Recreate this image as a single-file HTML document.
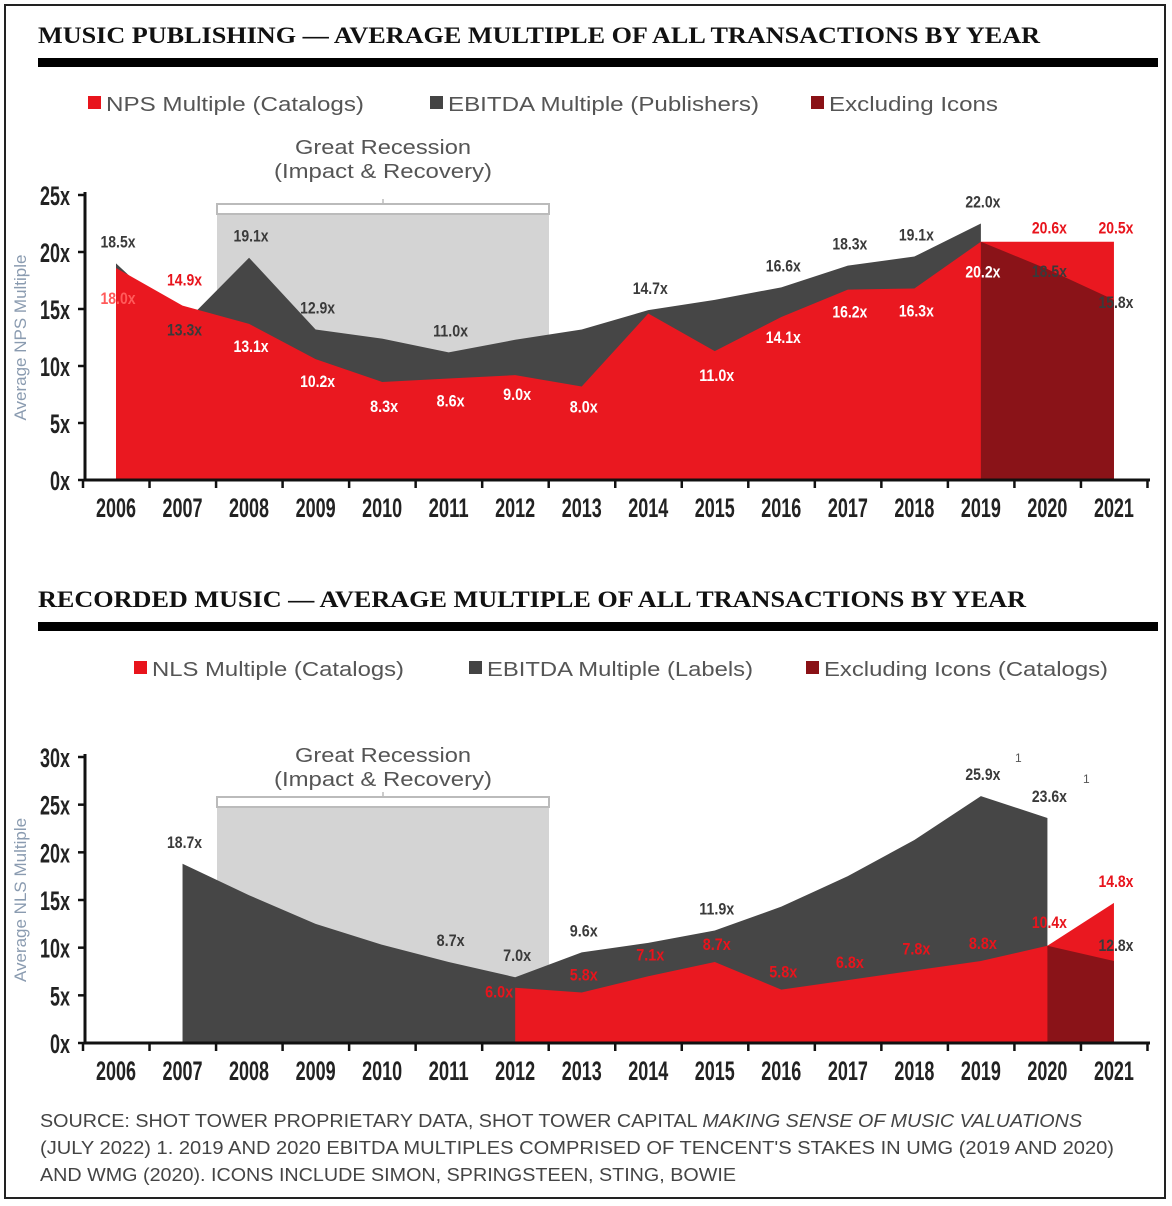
<!DOCTYPE html>
<html><head><meta charset="utf-8">
<style>
html,body{margin:0;padding:0;background:#fff;}
svg{display:block;}
.t{font-family:"Liberation Serif",serif;font-weight:bold;font-size:23px;fill:#111;}
.lg{font-family:"Liberation Sans",sans-serif;font-size:20px;fill:#555;}
.yr{font-family:"Liberation Sans Narrow","Liberation Sans",sans-serif;font-weight:bold;font-size:27px;fill:#222;}
.lb{font-family:"Liberation Sans Narrow","Liberation Sans",sans-serif;font-weight:bold;font-size:17px;}
.src{font-family:"Liberation Sans",sans-serif;font-size:18px;fill:#444;}
</style></head>
<body>
<svg id="c" width="1172" height="1206" xmlns="http://www.w3.org/2000/svg">
<rect x="5" y="5" width="1160" height="1193" fill="#fff" stroke="#222" stroke-width="2"/>
<text class="t" x="38" y="43" textLength="1002" lengthAdjust="spacingAndGlyphs">MUSIC PUBLISHING — AVERAGE MULTIPLE OF ALL TRANSACTIONS BY YEAR</text>
<rect x="38" y="58" width="1120" height="9" fill="#000"/>
<text class="t" x="38" y="607" textLength="988" lengthAdjust="spacingAndGlyphs">RECORDED MUSIC — AVERAGE  MULTIPLE OF ALL TRANSACTIONS BY YEAR</text>
<rect x="38" y="622" width="1120" height="9" fill="#000"/>
<g>
<rect x="88" y="96" width="13" height="13" fill="#e8141c"/>
<text class="lg" x="106" y="111" textLength="258" lengthAdjust="spacingAndGlyphs">NPS Multiple (Catalogs)</text>
<rect x="430" y="96" width="13" height="13" fill="#444"/>
<text class="lg" x="448" y="111" textLength="311" lengthAdjust="spacingAndGlyphs">EBITDA Multiple (Publishers)</text>
<rect x="811" y="96" width="13" height="13" fill="#8a1116"/>
<text class="lg" x="829" y="111" textLength="169" lengthAdjust="spacingAndGlyphs">Excluding Icons</text>
</g>
<g>
<rect x="134" y="661" width="13" height="13" fill="#e8141c"/>
<text class="lg" x="152" y="676" textLength="252" lengthAdjust="spacingAndGlyphs">NLS Multiple (Catalogs)</text>
<rect x="469" y="661" width="13" height="13" fill="#444"/>
<text class="lg" x="487" y="676" textLength="266" lengthAdjust="spacingAndGlyphs">EBITDA Multiple (Labels)</text>
<rect x="806" y="661" width="13" height="13" fill="#8a1116"/>
<text class="lg" x="824" y="676" textLength="284" lengthAdjust="spacingAndGlyphs">Excluding Icons (Catalogs)</text>
</g>
<text class="src" x="40" y="1127" textLength="1042" lengthAdjust="spacingAndGlyphs">SOURCE:  SHOT TOWER PROPRIETARY DATA, SHOT TOWER CAPITAL <tspan font-style="italic">MAKING SENSE OF MUSIC VALUATIONS</tspan></text>
<text class="src" x="40" y="1154" textLength="1074" lengthAdjust="spacingAndGlyphs">(JULY 2022)  1. 2019 AND 2020 EBITDA MULTIPLES COMPRISED OF TENCENT'S STAKES IN UMG (2019 AND 2020)</text>
<text class="src" x="40" y="1181" textLength="696" lengthAdjust="spacingAndGlyphs">AND WMG (2020). ICONS INCLUDE SIMON, SPRINGSTEEN, STING, BOWIE</text>
</svg>
<script>
const years=["2006","2007","2008","2009","2010","2011","2012","2013","2014","2015","2016","2017","2018","2019","2020","2021"];
// top chart (publishing)
const pubEbitda=[19.0,13.6,19.5,13.2,12.4,11.2,12.3,13.2,14.9,15.8,16.9,18.8,19.6,22.5,null,null];
const pubNps=[18.6,15.3,13.7,10.6,8.6,8.9,9.2,8.2,14.6,11.3,14.3,16.7,16.8,20.9,20.9,20.9];
const pubIcons=[null,null,null,null,null,null,null,null,null,null,null,null,null,20.9,18.5,15.8];
const pubEbitdaLabels=["18.5x","13.3x","19.1x","12.9x","","11.0x","","","14.7x","","16.6x","18.3x","19.1x","22.0x","18.5x","15.8x"];
const pubNpsLabels=["18.0x","14.9x","13.1x","10.2x","8.3x","8.6x","9.0x","8.0x","","11.0x","14.1x","16.2x","16.3x","20.2x","20.6x","20.5x"];
const pubTicks=[0,5,10,15,20,25];
// bottom chart (recorded)
const recEbitda=[null,18.8,15.5,12.5,10.3,8.5,6.9,9.5,10.5,11.8,14.3,17.5,21.3,25.9,23.6,null];
const recNls=[null,null,null,null,null,null,5.8,5.3,7.0,8.5,5.6,6.6,7.6,8.6,10.2,14.7];
const recIcons=[null,null,null,null,null,null,null,null,null,null,null,null,null,null,10.2,8.6];
const recEbitdaLabels=["","18.7x","","","","8.7x","7.0x","9.6x","","11.9x","","","","25.9x","23.6x","12.8x"];
const recNlsLabels=["","","","","","","6.0x","5.8x","7.1x","8.7x","5.8x","6.8x","7.8x","8.8x","10.4x","14.8x"];
const recTicks=[0,5,10,15,20,25,30];

const NS="http://www.w3.org/2000/svg";
const svg=document.getElementById('c');
function mk(tag,attrs,parent){const e=document.createElementNS(NS,tag);for(const k in attrs)e.setAttribute(k,attrs[k]);(parent||svg).appendChild(e);return e;}

function chart(cfg){
  const g=mk('g',{});
  
  
  const x0=116,step=66.53;
  const X=i=>x0+i*step;
  const Y=v=>cfg.y0-(v/cfg.max)*(cfg.y0-cfg.yTop);
  const band=mk('rect',{x:217,y:cfg.bandTop,width:332,height:cfg.y0-cfg.bandTop,fill:'#d4d4d4'},g);
  
  
  const bar=mk('rect',{x:217,y:cfg.bandTop-11,width:332,height:10,fill:'#fff',stroke:'#bbb','stroke-width':2},g);
  
  
  mk('line',{x1:383,y1:cfg.bandTop-11,x2:383,y2:cfg.bandTop-16,stroke:'#bbb','stroke-width':1.5},g);
  const t1=mk('text',{x:383,y:cfg.recY,'text-anchor':'middle',class:'lg',textLength:176,lengthAdjust:'spacingAndGlyphs'},g);t1.textContent='Great Recession';
  
  
  const t2=mk('text',{x:383,y:cfg.recY+24,'text-anchor':'middle',class:'lg',textLength:218,lengthAdjust:'spacingAndGlyphs'},g);t2.textContent='(Impact & Recovery)';
  
  
  function area(vals,fill,name){
    const idx=vals.map((v,i)=>v==null?null:i).filter(i=>i!=null);
    let d='M'+X(idx[0])+','+cfg.y0;
    idx.forEach(i=>{d+=' L'+X(i)+','+Y(vals[i]);});
    d+=' L'+X(idx[idx.length-1])+','+cfg.y0+' Z';
    const p=mk('path',{d:d,fill:fill},g);
    
    
  }
  area(cfg.ebitda,'#464646',cfg.ebName);
  area(cfg.main,'#ea1820',cfg.mainName);
  area(cfg.icons,'#8a1318',cfg.iconName);
  const ax=mk('path',{d:`M85,${cfg.yTop-3} L85,${cfg.y0} L1150,${cfg.y0}`,fill:'none',stroke:'#111','stroke-width':3},g);
  
  
  cfg.ticks.forEach(v=>{
    mk('line',{x1:78,y1:Y(v),x2:85,y2:Y(v),stroke:'#111','stroke-width':2.5},g);
    const s=v+'x';
    const tl=mk('text',{x:70,y:Y(v)+10,'text-anchor':'end',class:'yr',textLength:s.length*10,lengthAdjust:'spacingAndGlyphs'},g);tl.textContent=s;
    
    
  });
  for(let k=0;k<=16;k++){const xx=x0-33+k*step;mk('line',{x1:xx,y1:cfg.y0,x2:xx,y2:cfg.y0+8,stroke:'#111','stroke-width':2.5},g);}
  years.forEach((yr,i)=>{
    const tl=mk('text',{x:X(i),y:cfg.y0+37,'text-anchor':'middle',class:'yr',textLength:40,lengthAdjust:'spacingAndGlyphs'},g);tl.textContent=yr;
    
    
  });
  const yt=mk('text',{x:0,y:0,transform:`translate(26,${(cfg.y0+cfg.yTop)/2}) rotate(-90)`,'text-anchor':'middle',class:'lg'},g);
  yt.textContent=cfg.yTitle;yt.setAttribute('style','fill:#8a9bb0;font-size:17px');
  
  
  const lw=s=>s.length*7;
  cfg.ebLabels.forEach((s,i)=>{
    if(!s)return;
    let v=cfg.ebitda[i]!=null?cfg.ebitda[i]:cfg.icons[i];
    let y=cfg.ebitda[i]!=null?Y(v)-16:Y(v)+8;
    if(cfg.ebLow&&cfg.ebLow.includes(i))y=Y(cfg.main[i])+12+18;
    if(cfg.ebAbove&&cfg.ebAbove.includes(i))y=Y(v)-10;
    const t=mk('text',{x:X(i)+2,y:y,'text-anchor':'middle',class:'lb',fill:'#3a3a3a',textLength:lw(s),lengthAdjust:'spacingAndGlyphs'},g);t.textContent=s;
    
    
  });
  cfg.mainLabels.forEach((s,i)=>{
    if(!s)return;
    const pos=cfg.mainPos[i];
    const t=mk('text',{x:X(i)+2+(pos.dx||0),y:Y(cfg.main[i])+pos.dy,'text-anchor':'middle',class:'lb',fill:pos.c,textLength:lw(s),lengthAdjust:'spacingAndGlyphs'},g);t.textContent=s;
    
    
  });
}
const W='#fff',R='#e8141c',LR='#ff5a5a';
chart({name:'publishing-chart',y0:480,yTop:195,max:25,bandTop:215,recY:154,ticks:pubTicks,ebitda:pubEbitda,main:pubNps,icons:pubIcons,
  ebName:'ebitda-publishers-area',mainName:'nps-catalogs-area',iconName:'excluding-icons-area',
  ebLabels:pubEbitdaLabels,mainLabels:pubNpsLabels,ebLow:[1],yTitle:'Average NPS Multiple',
  mainPos:[{dy:36,c:LR},{dy:-20,c:R},{dy:28,c:W},{dy:28,c:W},{dy:30,c:W},{dy:28,c:W},{dy:25,c:W},{dy:26,c:W},{dy:0,c:W},{dy:30,c:W},{dy:26,c:W},{dy:28,c:W},{dy:28,c:W},{dy:36,c:W},{dy:-8,c:R},{dy:-8,c:R}]});
chart({name:'recorded-chart',y0:1043,yTop:757,max:30,bandTop:808,recY:762,ticks:recTicks,ebitda:recEbitda,main:recNls,icons:recIcons,
  ebName:'ebitda-labels-area',mainName:'nls-catalogs-area',iconName:'excluding-icons-catalogs-area',
  ebLabels:recEbitdaLabels,mainLabels:recNlsLabels,ebAbove:[15],yTitle:'Average NLS Multiple',
  mainPos:[0,0,0,0,0,0,{dx:-18,dy:10,c:R},{dy:-12,c:R},{dy:-16,c:R},{dy:-12,c:R},{dy:-12,c:R},{dy:-12,c:R},{dy:-16,c:R},{dy:-12,c:R},{dy:-18,c:R},{dy:-16,c:R}]});
[[1015,762],[1083,783]].forEach(p=>{const t=mk('text',{x:p[0],y:p[1],class:'lg'});t.textContent='1';t.setAttribute('style','font-size:12px');

});
</script>
</body></html>
